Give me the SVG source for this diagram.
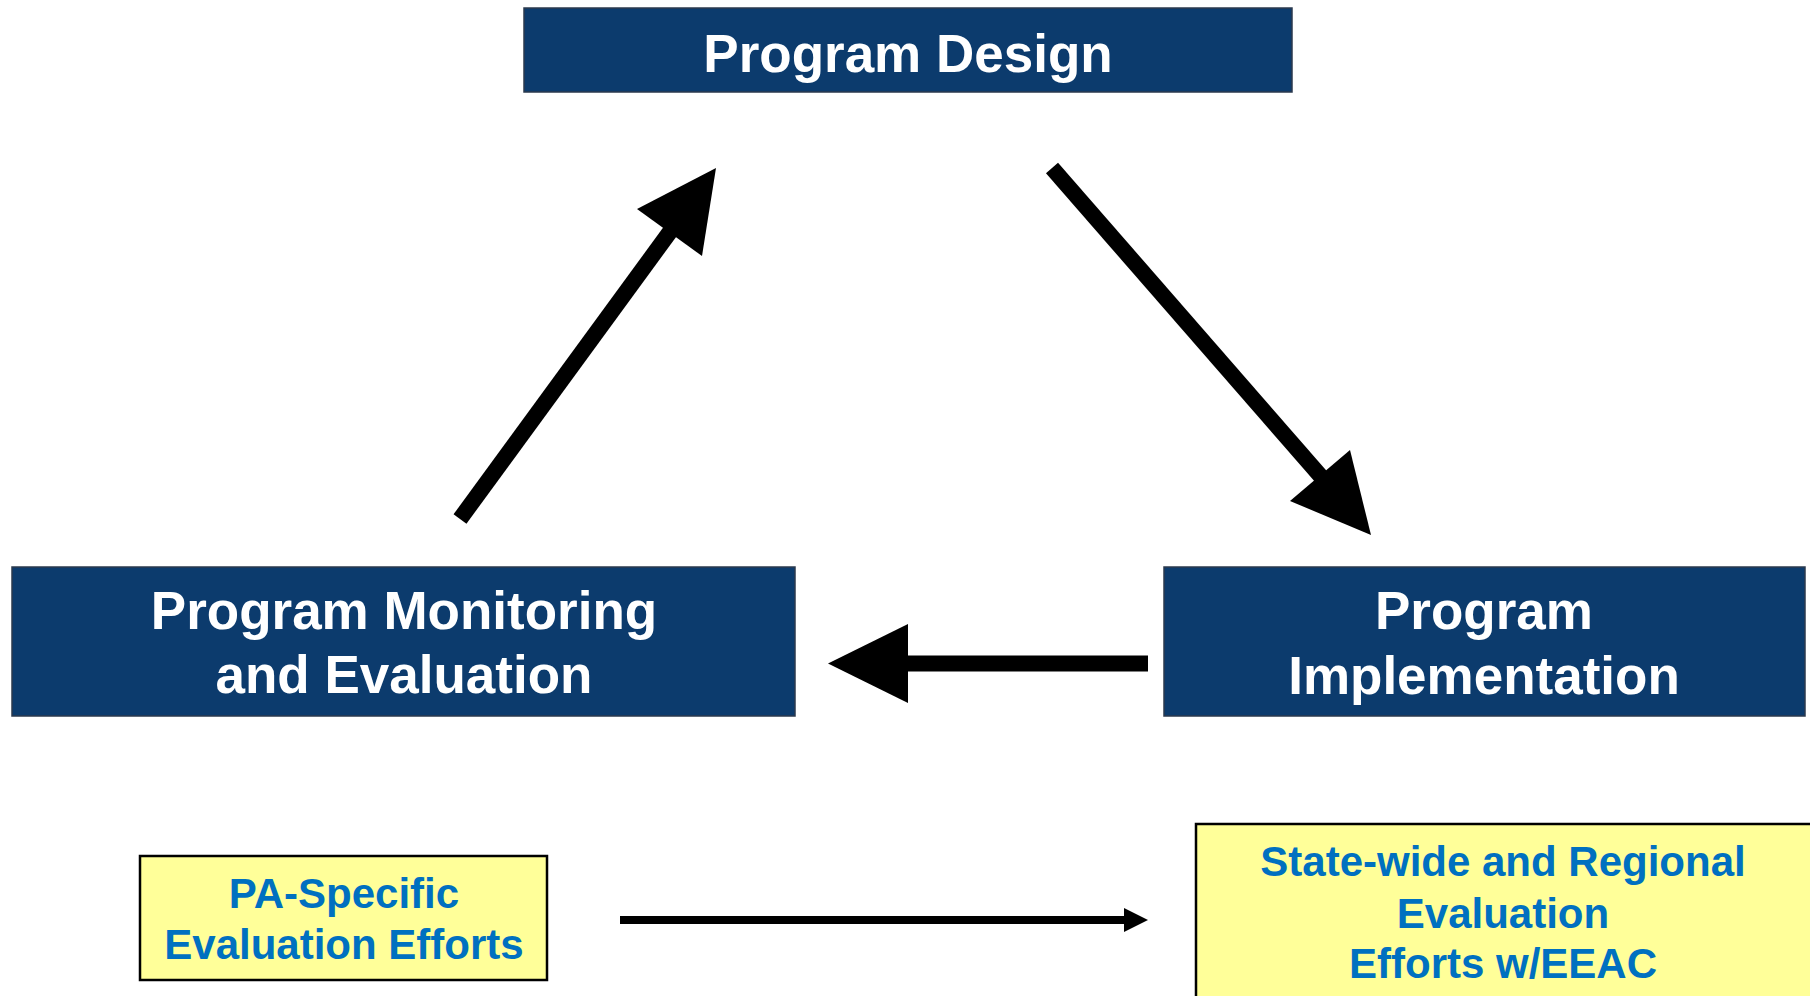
<svg xmlns="http://www.w3.org/2000/svg" width="1810" height="996" viewBox="0 0 1810 996">
  <style>
    .navy { fill: #0C3B6D; stroke: #2B3A4E; stroke-width: 1.5; }
    .yellow { fill: #FFFF99; stroke: #000000; stroke-width: 2.5; }
    .wt { font-family: "Liberation Sans", Arial, sans-serif; font-weight: bold; font-size: 53px; fill: #FFFFFF; text-anchor: middle; }
    .bt { font-family: "Liberation Sans", Arial, sans-serif; font-weight: bold; font-size: 42px; fill: #0070C0; text-anchor: middle; }
    .shaft { stroke: #000000; stroke-width: 16; fill: none; }
    .thin { stroke: #000000; stroke-width: 8; fill: none; }
    .head { fill: #000000; }
  </style>
  <rect width="1810" height="996" fill="#FFFFFF"/>

  <g id="connectors">
    <!-- Monitoring -> Design -->
    <line class="shaft" x1="460" y1="519" x2="672" y2="229"/>
    <polygon class="head" points="716,168 637,209 702,256"/>
    <!-- Design -> Implementation -->
    <line class="shaft" x1="1052" y1="168" x2="1324" y2="480"/>
    <polygon class="head" points="1371,535 1290,501 1350,450"/>
    <!-- Implementation -> Monitoring -->
    <line class="shaft" x1="1148" y1="663.5" x2="904" y2="663.5"/>
    <polygon class="head" points="828,663.5 908,624 908,703"/>
    <!-- PA-Specific -> State-wide -->
    <line class="thin" x1="620" y1="920" x2="1128" y2="920"/>
    <polygon class="head" points="1148,920 1124,908 1124,932"/>
  </g>

  <g id="program-design">
    <rect class="navy" x="524" y="8" width="768" height="84"/>
    <text class="wt" x="908" y="72">Program Design</text>
  </g>

  <g id="program-monitoring">
    <rect class="navy" x="12" y="567" width="783" height="149"/>
    <text class="wt" x="404" y="629">Program Monitoring</text>
    <text class="wt" x="404" y="693">and Evaluation</text>
  </g>

  <g id="program-implementation">
    <rect class="navy" x="1164" y="567" width="641" height="149"/>
    <text class="wt" x="1484" y="629">Program</text>
    <text class="wt" x="1484" y="694">Implementation</text>
  </g>

  <g id="pa-specific">
    <rect class="yellow" x="140" y="856" width="407" height="124"/>
    <text class="bt" x="344" y="908">PA-Specific</text>
    <text class="bt" x="344" y="959">Evaluation Efforts</text>
  </g>

  <g id="statewide">
    <rect class="yellow" x="1196" y="824" width="620" height="180"/>
    <text class="bt" x="1503" y="876">State-wide and Regional</text>
    <text class="bt" x="1503" y="928">Evaluation</text>
    <text class="bt" x="1503" y="978">Efforts w/EEAC</text>
  </g>
</svg>
